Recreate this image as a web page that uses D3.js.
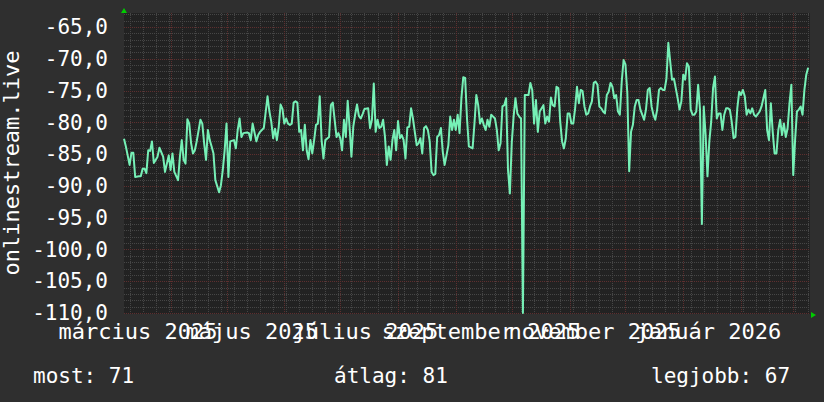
<!DOCTYPE html>
<html>
<head>
<meta charset="utf-8">
<script src="https://cdn.jsdelivr.net/npm/d3@7"></script>
<style>
  body { margin: 0; background: #2f2f2f; }
  svg { display: block; }
  text { font-family: "DejaVu Sans Mono", monospace; fill: #ffffff; }
</style>
</head>
<body>
<div id="chart"></div>
<script>
// time range of the graph (daily samples)
const startDate = "2025-03-07";
const endDate = "2026-03-10";

// day offset from startDate, and the value read for that day
const dayOffsets = [0,1,3,4,5,6,8,9,10,11,12,13,14,15,16,18,19,21,22,24,25,26,27,29,30,31,32,33,34,35,36,37,38,39,41,42,43,44,45,46,47,48,49,51,52,53,54,55,56,57,59,60,61,62,63,64,66,67,68,69,71,72,
  73,75,77,78,79,80,81,82,83,84,85,86,87,88,89,90,91,92,93,94,95,96,97,98,99,100,101,102,103,104,105,106,107,108,110,111,112,114,115,116,117,118,119,120,121,122,123,124,125,126,127,128,129,131,132,133,134,135,136,137,138,139,140,141,142,143,144,145,146,
  147,148,149,150,151,152,153,154,155,156,157,158,159,160,161,162,163,164,165,166,167,168,169,170,171,172,173,174,175,176,177,178,179,180,181,182,183,184,185,187,188,189,190,191,192,193,194,195,196,197,198,199,200,201,202,203,204,205,206,207,208,209,210,211,212,213,214,215,216,217,218,219,220,
  221,222,223,225,226,227,228,229,230,231,232,233,234,235,236,237,238,239,240,241,242,243,244,245,246,247,248,249,250,251,252,253,254,255,256,257,258,259,260,261,262,263,264,265,266,267,268,269,270,271,272,273,274,275,276,277,278,279,280,281,282,283,284,285,286,287,288,289,290,291,292,293,294,295,
  297,298,299,300,301,302,303,304,305,306,307,308,309,310,311,312,313,314,315,316,317,318,319,320,321,322,323,324,325,326,327,328,329,330,331,332,333,334,335,336,337,338,339,341,342,344,345,346,347,348,349,350,351,352,353,354,355,356,357,358,359,360,361,362,363,364,365,366,367];

const values = [-82.6,-83.8,-86.7,-84.8,-84.8,-88.6,-88.5,-88.5,-87.3,-87.3,-88,-84.4,-84.5,-83,-86.4,-85.4,-84,-85.4,-87.8,-85.2,-87.5,-84.9,-87.8,-89.1,-85.4,-82.8,-85.9,-86.5,-79.5,-80.2,-83.3,-84.9,-84.4,-83,-79.6,-80.2,-83.3,-85.9,-81.2,-82.8,-83.8,-84.9,-89.1,-91,-89.9,-87.5,-84.4,-80.2,-88.6,-83,-82.8,-84.1,-81.2,-79.4,-82.3,-81.7,-81.6,-81.7,-82.8,-80.2,-83,-82,
  -81.5,-80.9,-75.9,-78.3,-79.9,-82.5,-81,-82.8,-80.7,-77.2,-77.9,-80.2,-79.4,-80.2,-80.4,-80.2,-76.9,-76.7,-76.9,-81.5,-81.2,-84.4,-80.4,-84.4,-85.8,-82.8,-84.9,-82.8,-80.4,-80.2,-75.9,-82.8,-85.7,-82.8,-82.3,-77.3,-76.9,-82.3,-81.7,-82.5,-84.4,-79.6,-82.3,-76.6,-80.7,-85.4,-80.7,-78.8,-77.2,-79,-79.4,-78.7,-77.9,-77.8,-80.9,-79.6,-73.9,-81.5,-79.6,-80.9,-80.7,-79.6,-82.3,-86.7,-83.8,-85.9,-82.8,-81.2,-84.4,
  -79.8,-82.5,-82,-82.8,-85.7,-80.8,-80.7,-77.8,-79.4,-81.5,-83.6,-83.3,-82.5,-84.9,-80.9,-80.6,-81.2,-83,-87.8,-88.3,-88.1,-82.3,-82,-80.9,-84.6,-86.7,-85.2,-83.6,-79.1,-81.2,-79.6,-81.2,-78.8,-81.7,-76.2,-72.9,-73,-79.4,-83.8,-84.1,-80.2,-75.7,-77.3,-80.2,-79.4,-80.4,-81.2,-79.6,-80.7,-78.8,-79.1,-79.4,-81.2,-84.4,-83.3,-77.5,-77.3,-76.2,-87.5,-91.2,-83.3,-79.1,-76.2,-78.6,-79.1,-79.4,-110,-75.7,-75.7,-75.7,-73.8,-74.9,-80.2,
  -76.5,-81.5,-78.3,-77.3,-80.2,-79.1,-79.9,-76.1,-77.3,-77.5,-74.4,-74.6,-79.9,-83,-84.1,-82.5,-78.6,-78.6,-80.2,-80.2,-77.8,-74.4,-77,-74.9,-75.1,-77.5,-78.8,-78.6,-77.5,-76.7,-73.8,-73.6,-74.1,-77.5,-77.8,-78.3,-78.6,-75.7,-75.2,-73.8,-74.4,-76.2,-75.7,-78.3,-78.8,-73.6,-70.2,-70.9,-75.4,-87.7,-81.5,-80.4,-77.5,-76.5,-76.5,-78,-78.8,-79.6,-78,-74.9,-74.6,-77.5,-78.8,-79.6,-78,-74.9,-74.6,-74.9,-74.9,-73.1,-67.5,-70.4,-73.3,-73.1,
  -76.2,-78,-76.7,-72.5,-73.3,-70.7,-71.2,-78,-78.8,-78.8,-78.3,-74.1,-78,-96,-77.5,-82,-88.5,-83,-79.9,-74.6,-72.8,-79.4,-78.6,-78.6,-81.2,-78.8,-77.8,-77.8,-78,-79.9,-82.5,-82.3,-77.8,-75.2,-75.7,-74.9,-75.9,-78.8,-78,-78.6,-77.8,-78.8,-79.1,-78.3,-77.5,-74.9,-81.2,-82.8,-77,-81.5,-84.9,-84.9,-81.2,-79.6,-82,-80.2,-82.3,-80.9,-77,-74.1,-88.3,-82.8,-78.3,-78,-77.5,-78.8,-74.9,-72.5,-71.4];

// axis values and labels
const yMin = -110, yMax = -62.8;
const yTicks = [-110, -105, -100, -95, -90, -85, -80, -75, -70, -65];
const monthNames = ["január", "február", "március", "április", "május", "június", "július", "augusztus", "szeptember", "október", "november", "december"];
const labelMonths = ["2025-03-01", "2025-05-01", "2025-07-01", "2025-09-01", "2025-11-01", "2026-01-01"];
const yTitle = "onlinestream.live";
const legendNames = ["most", "átlag", "legjobb"];
const legendValues = [71, 81, 67];

const W = 824, H = 402;
const margin = {top: 13, right: 14, bottom: 89, left: 124},
    width = W - margin.left - margin.right,
    height = H - margin.top - margin.bottom;

const huLocale = d3.timeFormatLocale({
    dateTime: "%Y. %B %-e. %X", date: "%Y.%m.%d.", time: "%H:%M:%S",
    periods: ["de.", "du."],
    days: ["vasárnap", "hétfő", "kedd", "szerda", "csütörtök", "péntek", "szombat"],
    shortDays: ["V", "H", "K", "Sze", "Cs", "P", "Szo"],
    months: monthNames,
    shortMonths: monthNames.map(m => m.slice(0, 3))
});
const monthFmt = huLocale.utcFormat("%B %Y");
const numFmt = d3.formatLocale({decimal: ",", thousands: " ", grouping: [3], currency: ["", " Ft"], minus: "-"}).format(".1f");

const start = new Date(startDate + "T00:00:00Z");
const end = new Date(endDate + "T00:00:00Z");
const data = dayOffsets.map((d, i) => ({date: d3.utcDay.offset(start, d), value: values[i]}));

const x = d3.scaleUtc().domain([start, end]).range([0, width]);
const y = d3.scaleLinear().domain([yMin, yMax]).range([height, 0]);

const svg = d3.select("#chart").append("svg")
    .attr("width", W)
    .attr("height", H);

svg.append("rect")
    .attr("width", W).attr("height", H)
    .attr("fill", "#2f2f2f");

const g = svg.append("g")
    .attr("transform", "translate(" + margin.left + "," + margin.top + ")");

// plot background
g.append("rect")
    .attr("width", width)
    .attr("height", height + 1)
    .attr("fill", "#222222");

// minor grid: every unit and every monday
const minorY = d3.range(Math.ceil(yMin), Math.floor(yMax) + 1).filter(v => v % 5 !== 0);
g.selectAll(".hminor")
    .data(minorY)
    .enter().append("line")
    .attr("x1", 0).attr("x2", width)
    .attr("y1", d => Math.round(y(d)) + 0.5).attr("y2", d => Math.round(y(d)) + 0.5)
    .attr("stroke", "#464646")
    .attr("stroke-dasharray", "1,1");

const mondays = d3.utcMonday.range(start, end);
g.selectAll(".vminor")
    .data(mondays)
    .enter().append("line")
    .attr("y1", 0).attr("y2", height)
    .attr("x1", d => Math.round(x(d)) + 0.5).attr("x2", d => Math.round(x(d)) + 0.5)
    .attr("stroke", "#464646")
    .attr("stroke-dasharray", "1,1");

// major grid: every 5 units and every month
g.selectAll(".hmajor")
    .data(yTicks)
    .enter().append("line")
    .attr("x1", 0).attr("x2", width)
    .attr("y1", d => Math.round(y(d)) + 0.5).attr("y2", d => Math.round(y(d)) + 0.5)
    .attr("stroke", "#5e2f2f")
    .attr("stroke-dasharray", "1,1");

const months = d3.utcMonth.range(start, end);
g.selectAll(".vmajor")
    .data(months)
    .enter().append("line")
    .attr("y1", 0).attr("y2", height)
    .attr("x1", d => Math.round(x(d)) + 0.5).attr("x2", d => Math.round(x(d)) + 0.5)
    .attr("stroke", "#5e2f2f")
    .attr("stroke-dasharray", "1,1");

// the series
const line = d3.line()
    .x(d => x(d.date))
    .y(d => y(d.value));

g.append("path")
    .datum(data)
    .attr("fill", "none")
    .attr("stroke", "#76f0b6")
    .attr("stroke-width", 2)
    .attr("stroke-linejoin", "round")
    .attr("d", line);

// Y axis labels
const yAxis = g.append("g")
    .call(d3.axisLeft(y).tickValues(yTicks).tickSize(0).tickPadding(16).tickFormat(numFmt));
yAxis.select(".domain").remove();
yAxis.selectAll("text")
    .attr("fill", "#ffffff")
    .style("font-family", "'DejaVu Sans Mono', monospace")
    .style("font-size", "21px");

// X labels, placed mid-way into the labelled month like rrdtool does
g.selectAll(".xlab")
    .data(labelMonths)
    .enter().append("text")
    .attr("x", d => x(new Date(+new Date(d + "T00:00:00Z") + 13.5 * 864e5)))
    .attr("y", height + 26)
    .attr("text-anchor", "middle")
    .style("font-size", "22px")
    .text(d => monthFmt(new Date(d + "T00:00:00Z")));

// axis arrows
svg.append("path")
    .attr("d", "M" + (margin.left - 3) + ",13 L" + (margin.left + 3) + ",13 L" + margin.left + ",8 Z")
    .attr("fill", "#00cc00");
svg.append("path")
    .attr("d", "M" + (margin.left + width + 1) + "," + (margin.top + height - 1) + " L" + (margin.left + width + 1) + "," + (margin.top + height + 5) + " L" + (margin.left + width + 6) + "," + (margin.top + height + 2) + " Z")
    .attr("fill", "#00cc00");

// Y title
svg.append("text")
    .attr("transform", "translate(19," + (margin.top + height / 2) + ") rotate(-90)")
    .attr("text-anchor", "middle")
    .style("font-size", "22px")
    .text(yTitle);

// legend
const legendX = [33, 334, 651];
svg.selectAll(".legend")
    .data(legendNames)
    .enter().append("text")
    .attr("x", (d, i) => legendX[i])
    .attr("y", 383)
    .style("font-size", "21px")
    .text((d, i) => d + ": " + legendValues[i]);
</script>
</body>
</html>
